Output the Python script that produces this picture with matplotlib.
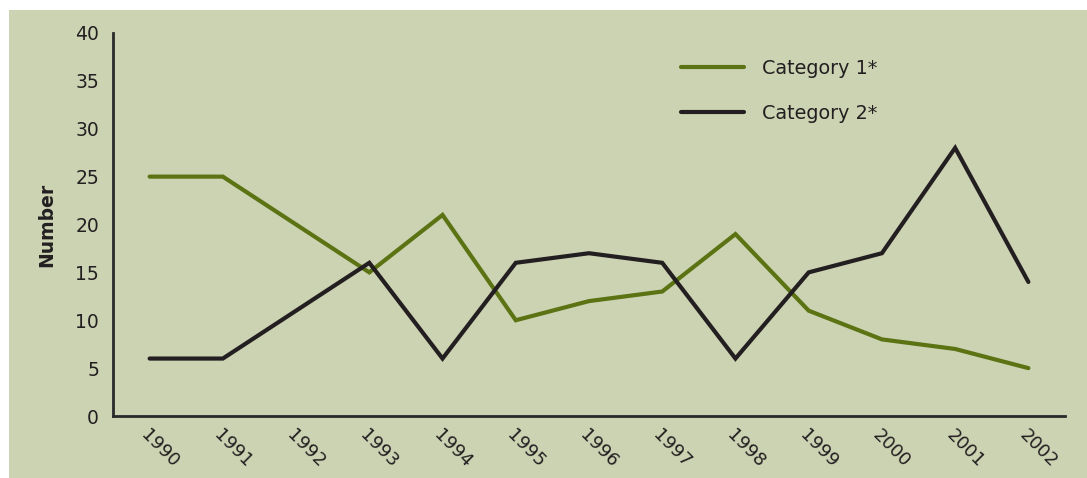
import matplotlib.pyplot as plt
from matplotlib.patches import Rectangle

# データ
years = ['1990', '1991', '1992', '1993', '1994', '1995', '1996',
         '1997', '1998', '1999', '2000', '2001', '2002']
category1 = [25, 25, 20, 15, 21, 10, 12, 13, 19, 11, 8, 7, 5]
category2 = [6, 6, 11, 16, 6, 16, 17, 16, 6, 15, 17, 28, 14]

bg = '#ccd3b3'
green = '#5b7313'
dark = '#231f20'

plt.rcParams['font.family'] = ['DejaVu Sans']

fig = plt.figure(figsize=(10.87, 4.78), dpi=100)
fig.patch.set_facecolor('white')
# 背景パネル
fig.add_artist(Rectangle((9 / 1087, 0), 1 - 9 / 1087, 1 - 10 / 478,
                         transform=fig.transFigure, facecolor=bg,
                         edgecolor='none', zorder=-10))

ax = fig.add_axes([113 / 1087, 1 - 416 / 478, (1065 - 113) / 1087, (416 - 33) / 478])
ax.set_facecolor('none')
ax.set_zorder(5)

x = range(len(years))
ax.plot(x, category1, color=green, linewidth=3, solid_capstyle='round',
        solid_joinstyle='miter', label='Category 1*')
ax.plot(x, category2, color=dark, linewidth=3, solid_capstyle='round',
        solid_joinstyle='miter', label='Category 2*')

ax.set_xlim(-0.5, len(years) - 0.5)
ax.set_ylim(0, 40)
ax.set_yticks(range(0, 41, 5))
ax.set_xticks(list(x))
ax.set_xticklabels(years, rotation=-45, ha='left', va='top',
                   rotation_mode='anchor', fontsize=13, color=dark)
ax.tick_params(axis='y', length=0, pad=10, labelsize=13.5, labelcolor=dark)
ax.tick_params(axis='x', length=0, pad=7)

for s in ['top', 'right']:
    ax.spines[s].set_visible(False)
for s in ['left', 'bottom']:
    ax.spines[s].set_color('#2a2a2a')
    ax.spines[s].set_linewidth(2)

ax.set_ylabel('Number', fontsize=13.5, fontweight='bold', color=dark, labelpad=14)

ax.legend(loc='upper left', bbox_to_anchor=(0.578, 0.978), frameon=False,
          fontsize=13.8, handlelength=3.3, handletextpad=0.95, labelspacing=1.35,
          labelcolor=dark)

fig.savefig('out.png', dpi=100)
